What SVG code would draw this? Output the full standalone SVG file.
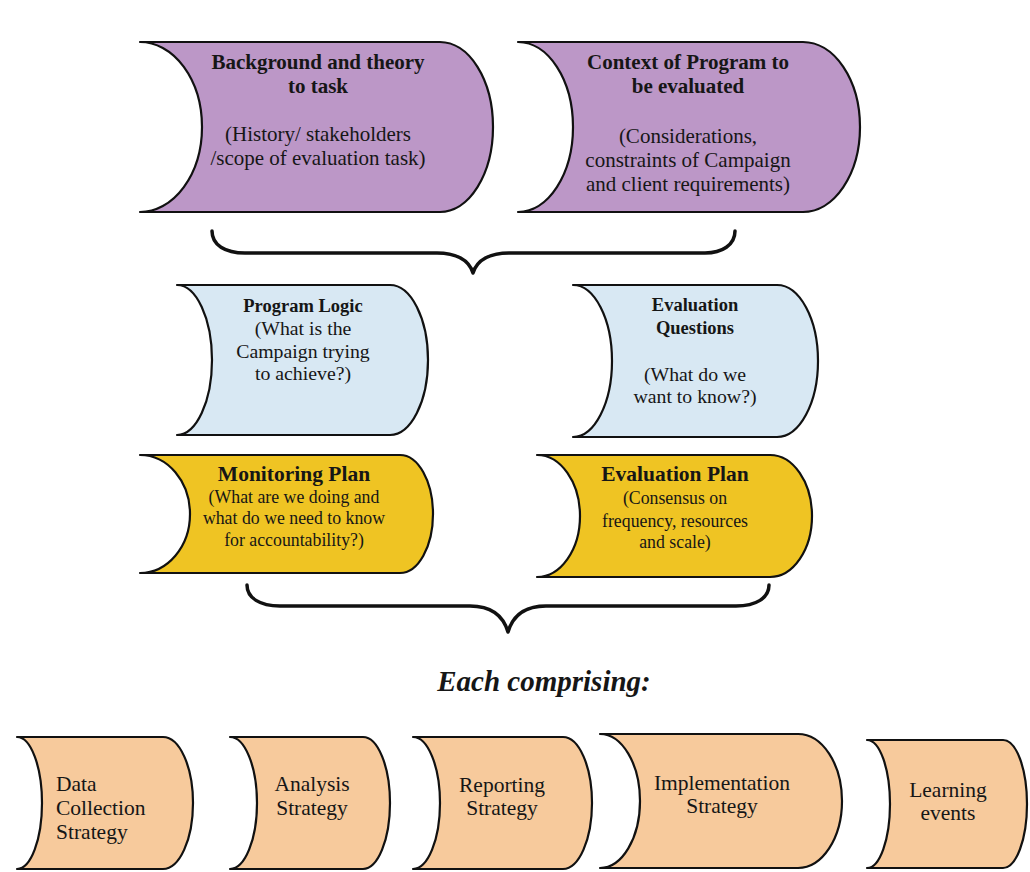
<svg xmlns="http://www.w3.org/2000/svg" width="1030" height="872" viewBox="0 0 1030 872">
<style>
.shape{stroke:#111;stroke-width:2.2;stroke-linejoin:round}
.purple{fill:#bc97c7}
.blue{fill:#d8e8f3}
.yellow{fill:#efc423}
.tan{fill:#f7ca9c}
text{font-family:"Liberation Serif","Times New Roman",serif;fill:#161616}
.c{text-anchor:middle}
.b{font-weight:bold}
.t1{font-size:21px}
.s1{font-size:21px}
.t2{font-size:18.5px}
.s2{font-size:19.8px}
.t3{font-size:21.5px}
.s3{font-size:17.8px}
.s4{font-size:21.5px}
.brace{fill:none;stroke:#111;stroke-width:3.5;stroke-linecap:round;stroke-linejoin:round}
.lead{font-size:29px;font-style:italic;font-weight:bold}
</style>
<rect width="1030" height="872" fill="#ffffff"/>

<g id="node-background">
<path class="shape purple" d="M140,42 H440 A53,85 0 0 1 440,212 H140 A62,85 0 0 0 140,42 Z"/>
<text class="c b t1" x="318" y="69">Background and theory</text>
<text class="c b t1" x="318" y="93">to task</text>
<text class="c s1" x="318" y="141">(History/ stakeholders</text>
<text class="c s1" x="318" y="165">/scope of evaluation task)</text>
</g>

<g id="node-context">
<path class="shape purple" d="M518,42 H803 A57,85 0 0 1 803,212 H518 A55,85 0 0 0 518,42 Z"/>
<text class="c b t1" x="688" y="69">Context of Program to</text>
<text class="c b t1" x="688" y="93">be evaluated</text>
<text class="c s1" x="688" y="143">(Considerations,</text>
<text class="c s1" x="688" y="167">constraints of Campaign</text>
<text class="c s1" x="688" y="191">and client requirements)</text>
</g>

<g id="node-program-logic">
<path class="shape blue" d="M177,285 H390 A38,75 0 0 1 390,435 H177 A35,75 0 0 0 177,285 Z"/>
<text class="c b t2" x="303" y="312">Program Logic</text>
<text class="c s2" x="303" y="335">(What is the</text>
<text class="c s2" x="303" y="358">Campaign trying</text>
<text class="c s2" x="303" y="380">to achieve?)</text>
</g>

<g id="node-eval-questions">
<path class="shape blue" d="M573,285 H777 A41,76 0 0 1 777,437 H573 A39,76 0 0 0 573,285 Z"/>
<text class="c b t2" x="695" y="311">Evaluation</text>
<text class="c b t2" x="695" y="334">Questions</text>
<text class="c s2" x="695" y="381">(What do we</text>
<text class="c s2" x="695" y="403">want to know?)</text>
</g>

<g id="node-monitoring">
<path class="shape yellow" d="M140,455 H400 A33,59 0 0 1 400,573 H140 A50,59 0 0 0 140,455 Z"/>
<text class="c b t3" x="294" y="481">Monitoring Plan</text>
<text class="c s3" x="294" y="503">(What are we doing and</text>
<text class="c s3" x="294" y="524">what do we need to know</text>
<text class="c s3" x="294" y="546">for accountability?)</text>
</g>

<g id="node-eval-plan">
<path class="shape yellow" d="M537,455 H770 A42,61 0 0 1 770,577 H537 A43,61 0 0 0 537,455 Z"/>
<text class="c b t3" x="675" y="481">Evaluation Plan</text>
<text class="c s3" x="675" y="504">(Consensus on</text>
<text class="c s3" x="675" y="527">frequency, resources</text>
<text class="c s3" x="675" y="548">and scale)</text>
</g>

<g id="connectors">
<path class="brace" d="M212,231 C212,245 225,253 245,253 L437,253 C456,253 469,260 473,273 C477,260 490,253 509,253 L705,253 C722,253 735,245 735,231"/>
<path class="brace" d="M247,585 C247,598 260,606 280,606 L470,606 C491,606 503,615 508,632 C513,615 525,606 546,606 L736,606 C756,606 769,598 769,585"/>
</g>

<text class="c lead" x="544" y="691">Each comprising:</text>

<g id="node-data-collection">
<path class="shape tan" d="M17,737 H163 A30,66 0 0 1 163,869 H17 A25,66 0 0 0 17,737 Z"/>
<text class="s4" x="56" y="791">Data</text>
<text class="s4" x="56" y="815">Collection</text>
<text class="s4" x="56" y="839">Strategy</text>
</g>

<g id="node-analysis">
<path class="shape tan" d="M230,737 H363 A27,66 0 0 1 363,869 H230 A27,66 0 0 0 230,737 Z"/>
<text class="c s4" x="312" y="791">Analysis</text>
<text class="c s4" x="312" y="815">Strategy</text>
</g>

<g id="node-reporting">
<path class="shape tan" d="M413,737 H563 A29,66 0 0 1 563,869 H413 A27,66 0 0 0 413,737 Z"/>
<text class="c s4" x="502" y="792">Reporting</text>
<text class="c s4" x="502" y="815">Strategy</text>
</g>

<g id="node-implementation">
<path class="shape tan" d="M600,734 H798 A44,67 0 0 1 798,868 H600 A40,67 0 0 0 600,734 Z"/>
<text class="c s4" x="722" y="790">Implementation</text>
<text class="c s4" x="722" y="813">Strategy</text>
</g>

<g id="node-learning">
<path class="shape tan" d="M867,740 H1003 A24,64 0 0 1 1003,868 H867 A23,64 0 0 0 867,740 Z"/>
<text class="c s4" x="948" y="797">Learning</text>
<text class="c s4" x="948" y="820">events</text>
</g>
</svg>
